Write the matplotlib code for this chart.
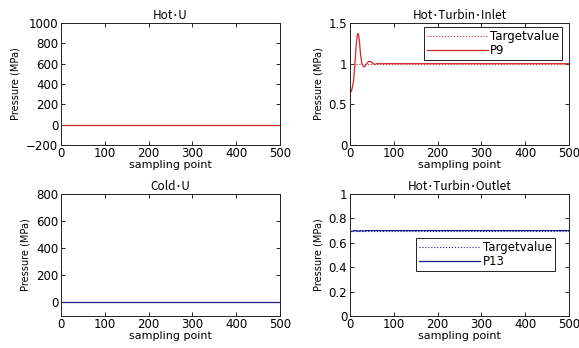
"""
Pressure response plots for the four monitored sections (MATLAB-style 2x2 figure).
"""

import matplotlib
matplotlib.use("Agg")
import matplotlib.pyplot as plt

# --- Data ---
SAMPLES = [1, 500]

hot_u = [0, 0]
cold_u = [0, 0]

# Hot turbine inlet: P9 overshoot then settles at 1.0 MPa
p9_x = [1, 3, 5, 8, 11, 14, 17, 19, 21, 24, 27, 30, 33, 37, 41, 45, 49, 53, 57, 61, 500]
p9_y = [0.65, 0.66, 0.70, 0.78, 0.98, 1.22, 1.36, 1.37, 1.30, 1.12, 1.00, 0.97,
        0.96, 0.99, 1.02, 1.03, 1.02, 1.00, 0.99, 1.00, 1.00]
target_inlet = [1.0, 1.0]

# Hot turbine outlet: P13 small ripple around 0.7 MPa
p13_x = [1, 5, 10, 15, 20, 25, 30, 35, 40, 500]
p13_y = [0.69, 0.695, 0.70, 0.70, 0.695, 0.70, 0.695, 0.70, 0.70, 0.70]
target_outlet = [0.7, 0.7]

TITLES = ["Hot･U", "Hot･Turbin･Inlet", "Cold･U", "Hot･Turbin･Outlet"]
XTICKS = [0, 100, 200, 300, 400, 500]

RED = "#d02828"
BLUE = "#1c1c8a"

FIG_W, FIG_H = 579, 348


def rect(left, top, right, bottom):
    """Pixel box -> figure fraction rect."""
    return [left / FIG_W, 1 - bottom / FIG_H,
            (right - left) / FIG_W, (bottom - top) / FIG_H]


def style_axes(ax, title, ylim, yticks):
    ax.set_xlim(0, 500)
    ax.set_ylim(*ylim)
    ax.set_xticks(XTICKS)
    ax.set_yticks(yticks)
    ax.tick_params(direction="in", length=3, width=0.6, labelsize=8.5,
                   top=True, right=True, pad=2)
    ax.tick_params(axis="x", pad=1.5)
    for s in ax.spines.values():
        s.set_linewidth(0.7)
        s.set_color("#222222")
    ax.set_title(title, fontsize=8.5, pad=3,
                 family=["Noto Sans CJK JP", "DejaVu Sans"])
    ax.set_xlabel("sampling point", fontsize=8, labelpad=0)
    ax.set_ylabel("Pressure (MPa)", fontsize=7, labelpad=4)


def add_legend(ax, anchor):
    leg = ax.legend(loc="upper right", bbox_to_anchor=anchor,
                    fontsize=8.5, handlelength=5.2, handletextpad=0.2,
                    borderpad=0.25, labelspacing=0.1, fancybox=False,
                    framealpha=1, borderaxespad=0)
    leg.get_frame().set_edgecolor("#222222")
    leg.get_frame().set_linewidth(0.7)


def main():
    fig = plt.figure(figsize=(FIG_W / 100, FIG_H / 100), dpi=100)

    # Hot U
    ax1 = fig.add_axes(rect(61, 23, 280, 145))
    ax1.plot(SAMPLES, hot_u, color=RED, lw=0.9)
    style_axes(ax1, TITLES[0], (-200, 1000), range(-200, 1001, 200))

    # Hot turbine inlet
    ax2 = fig.add_axes(rect(350, 23, 569, 145))
    ax2.plot(SAMPLES, target_inlet, color=RED, lw=0.8, ls=":", label="Targetvalue")
    ax2.plot(p9_x, p9_y, color=RED, lw=0.9, label="P9")
    style_axes(ax2, TITLES[1], (0, 1.5), [0, 0.5, 1, 1.5])
    ax2.set_yticklabels(["0", "0.5", "1", "1.5"])
    add_legend(ax2, (0.97, 0.965))

    # Cold U
    ax3 = fig.add_axes(rect(61, 194, 280, 316))
    ax3.plot(SAMPLES, cold_u, color=BLUE, lw=0.9)
    style_axes(ax3, TITLES[2], (-100, 800), range(0, 801, 200))

    # Hot turbine outlet
    ax4 = fig.add_axes(rect(350, 194, 569, 316))
    ax4.plot(SAMPLES, target_outlet, color=BLUE, lw=0.8, ls=":", label="Targetvalue")
    ax4.plot(p13_x, p13_y, color=BLUE, lw=0.9, label="P13")
    style_axes(ax4, TITLES[3], (0, 1), [0, 0.2, 0.4, 0.6, 0.8, 1])
    ax4.set_yticklabels(["0", "0.2", "0.4", "0.6", "0.8", "1"])
    add_legend(ax4, (0.935, 0.64))

    fig.savefig("out.png", dpi=100)
    plt.close(fig)


if __name__ == "__main__":
    main()
